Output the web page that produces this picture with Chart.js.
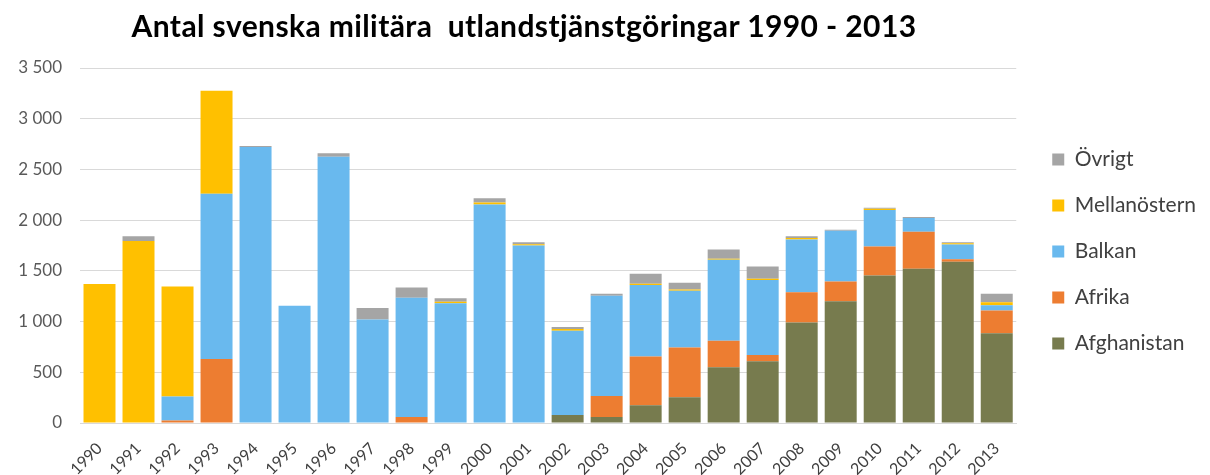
<!DOCTYPE html>
<html lang="sv">
<head>
  <meta charset="UTF-8" />
  <title>Antal svenska militära utlandstjänstgöringar 1990 - 2013</title>
  <script src="https://cdn.jsdelivr.net/npm/chart.js"></script>
  <style>
    body { margin: 0; background: #fff; font-family: Lato, sans-serif; }
    .wrap { position: relative; width: 1210px; height: 475px; }
    .title {
      position: absolute; left: 0; top: 7px; width: 1048px;
      text-align: center; font: bold 30px Lato, sans-serif; line-height: 36px;
      letter-spacing: 0.4px; color: #000;
    }
    canvas { position: absolute; left: 0; top: 0; }
  </style>
</head>
<body>
  <div class="wrap">
    <canvas id="chart" width="1210" height="475"></canvas>
    <div class="title">Antal svenska militära&nbsp; utlandstjänstgöringar 1990 - 2013</div>
  </div>

  <script>
    // Data
    const years = ['1990','1991','1992','1993','1994','1995','1996','1997','1998','1999','2000','2001',
                   '2002','2003','2004','2005','2006','2007','2008','2009','2010','2011','2012','2013'];
    const afghanistan  = [0, 0, 0, 0, 0, 0, 0, 0, 0, 0, 0, 0, 80, 60, 175, 255, 550, 610, 990, 1200, 1455, 1520, 1590, 885];
    const afrika       = [0, 0, 25, 630, 0, 0, 0, 0, 60, 0, 0, 0, 0, 205, 480, 490, 260, 60, 300, 195, 285, 365, 25, 225];
    const balkan       = [0, 0, 237, 1630, 2720, 1155, 2625, 1020, 1175, 1180, 2155, 1750, 830, 990, 705, 560, 800, 740, 520, 500, 360, 135, 145, 50];
    const mellanostern = [1370, 1795, 1085, 1015, 0, 0, 0, 0, 0, 15, 20, 12, 17, 0, 12, 12, 10, 12, 15, 0, 12, 0, 12, 30];
    const ovrigt       = [0, 45, 0, 0, 10, 0, 35, 115, 100, 35, 40, 20, 20, 20, 100, 65, 90, 120, 15, 10, 10, 10, 10, 85];
    const yTicks = [0, 500, 1000, 1500, 2000, 2500, 3000, 3500];

    function fmt(v) {
      return String(v).replace(/\B(?=(\d{3})+(?!\d))/g, ' ');
    }

    const ctx = document.getElementById('chart').getContext('2d');
    new Chart(ctx, {
      type: 'bar',
      data: {
        labels: years,
        datasets: [
          { label: 'Afghanistan', data: afghanistan, backgroundColor: '#777B4E' },
          { label: 'Afrika', data: afrika, backgroundColor: '#ED7D31' },
          { label: 'Balkan', data: balkan, backgroundColor: '#69B9EE' },
          { label: 'Mellanöstern', data: mellanostern, backgroundColor: '#FFC000' },
          { label: 'Övrigt', data: ovrigt, backgroundColor: '#A5A5A5' }
        ]
      },
      options: {
        responsive: false,
        animation: false,
        layout: { padding: { top: 68, left: 0, right: 4, bottom: 0 } },
        datasets: { bar: { categoryPercentage: 1, barPercentage: 0.82 } },
        plugins: {
          title: { display: false },
          tooltip: { enabled: false },
          legend: {
            position: 'right',
            fullSize: false,
            reverse: true,
            title: { display: true, text: ' ', font: { size: 10 }, padding: 0 },
            labels: {
              boxWidth: 12, boxHeight: 12, padding: 25,
              color: '#404040', font: { family: 'Lato', size: 21 }
            }
          }
        },
        scales: {
          x: {
            stacked: true,
            grid: { display: false },
            border: { color: '#d9d9d9', width: 1 },
            ticks: {
              color: '#404040', font: { family: 'Lato', size: 16 },
              minRotation: 45, maxRotation: 45, padding: 8
            },
            afterFit: s => { s.height = 52; }
          },
          y: {
            stacked: true,
            min: 0, max: 3500,
            grid: { color: '#d9d9d9', drawTicks: false },
            border: { display: false },
            afterBuildTicks: s => { s.ticks = yTicks.map(v => ({ value: v })); },
            ticks: {
              color: '#595959', font: { family: 'Lato', size: 17 }, padding: 18,
              callback: v => fmt(v)
            },
            afterFit: s => { s.width = 80; }
          },
          gap: {
            type: 'linear', position: 'right',
            grid: { display: false, drawTicks: false },
            border: { display: false },
            ticks: { display: false },
            afterFit: s => { s.width = 11; }
          }
        }
      }
    });
  </script>
</body>
</html>
